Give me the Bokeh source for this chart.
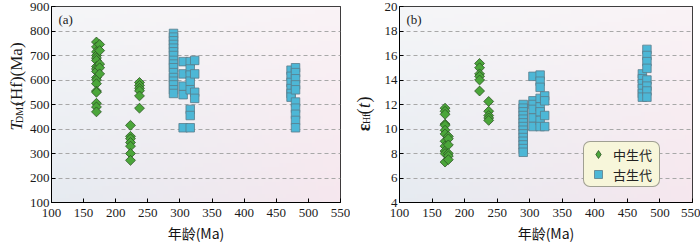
import numpy as np
from bokeh.plotting import figure
from bokeh.models import Range1d, FixedTicker, Label, Legend, LegendItem
from bokeh.layouts import row
from bokeh.embed import file_html
from bokeh.resources import INLINE

# ---------------- data ----------------
x_ticks = [100, 150, 200, 250, 300, 350, 400, 450, 500, 550]
tdm_ticks = [100, 200, 300, 400, 500, 600, 700, 800, 900]
ehf_ticks = [4, 6, 8, 10, 12, 14, 16, 18, 20]

legend_labels = ["中生代", "古生代"]

# panel (a): T_DM2(Hf) (Ma)
meso_age_a = [170] * 17 + [175] * 5 + [223] * 7 + [237] * 6
meso_tdm = [755, 735, 715, 700, 690, 680, 655, 645, 635, 610, 600, 585, 555, 550, 505, 490, 470,
            745, 720, 665, 650, 625,
            415, 370, 360, 345, 330, 300, 272,
            590, 578, 566, 556, 535, 485]
paleo_age_a = [290] * 16 + [305] * 5 + [316] * 8 + [323] * 4 + [473] * 6 + [480] * 10
paleo_tdm = [790, 775, 760, 745, 730, 715, 700, 680, 665, 650, 630, 610, 595, 580, 560, 545,
             675, 625, 575, 540, 405,
             675, 645, 620, 595, 560, 480, 455, 405,
             680, 625, 550, 525,
             640, 615, 590, 565, 545, 530,
             650, 630, 605, 580, 560, 510, 485, 460, 435, 405]

# panel (b): epsilon Hf(t)
meso_age_b = [170] * 12 + [175] * 6 + [223] * 6 + [237] * 5
meso_ehf = [11.7, 11.45, 11.2, 10.4, 10.3, 9.9, 9.6, 9.0, 8.6, 8.2, 8.0, 7.3,
            9.4, 9.2, 8.7, 8.0, 7.8, 7.5,
            15.35, 15.0, 14.5, 14.3, 14.0, 13.1,
            12.25, 11.45, 11.1, 10.9, 10.7]
paleo_age_b = [290] * 14 + [305] * 6 + [316] * 8 + [323] * 4 + [473] * 6 + [480] * 8
paleo_ehf = [12.0, 11.7, 11.4, 11.1, 10.8, 10.5, 10.2, 9.9, 9.6, 9.3, 9.0, 8.7, 8.4, 8.1,
             14.3, 12.3, 12.0, 11.6, 10.9, 10.2,
             14.4, 13.9, 13.4, 12.5, 11.8, 11.4, 10.7, 10.2,
             12.7, 12.3, 11.1, 10.2,
             14.5, 14.1, 13.7, 13.3, 12.9, 12.6,
             16.5, 16.0, 15.5, 14.95, 14.0, 13.5, 13.1, 12.6]

# ---------------- style ----------------
GREEN, GREEN_LINE = "#4ba63a", "#2c5424"
BLUE, BLUE_LINE = "#4db7d6", "#5a7c8a"
SERIF = "Liberation Serif"
CJK = "Noto Sans CJK SC"
TXT = "#1a1a1a"
H = 245


def gradient_image(nx=80, ny=50):
    bl = np.array([230, 235, 241], float)
    tl = np.array([245, 246, 248], float)
    br = np.array([246, 231, 238], float)
    tr = np.array([250, 243, 246], float)
    u = np.linspace(0, 1, nx)[None, :, None]
    v = np.linspace(0, 1, ny)[:, None, None]
    c = (1 - u) * (1 - v) * bl + u * (1 - v) * br + (1 - u) * v * tl + u * v * tr
    img = np.empty((ny, nx), dtype=np.uint32)
    view = img.view(dtype=np.uint8).reshape((ny, nx, 4))
    view[..., :3] = np.clip(c, 0, 255).astype(np.uint8)
    view[..., 3] = 255
    return img


def make_panel(width, left, right, yticks, tag, meso_x, meso_y, paleo_x, paleo_y):
    p = figure(width=width, height=H, output_backend="svg", toolbar_location=None,
               x_range=Range1d(x_ticks[0], x_ticks[-1]),
               y_range=Range1d(yticks[0], yticks[-1]),
               min_border_left=left, min_border_right=right,
               min_border_top=6, min_border_bottom=0)
    xr, yr = p.x_range, p.y_range
    p.image_rgba(image=[gradient_image()], x=xr.start, y=yr.start,
                 dw=xr.end - xr.start, dh=yr.end - yr.start, level="image")
    p.outline_line_color = "black"
    p.outline_line_width = 1
    p.xgrid.visible = False
    p.ygrid.grid_line_color = "#a8a8a8"
    p.ygrid.grid_line_dash = "4 3"
    p.ygrid.grid_line_width = 1
    p.xaxis.ticker = FixedTicker(ticks=x_ticks)
    p.yaxis.ticker = FixedTicker(ticks=yticks)
    for ax in (p.xaxis[0], p.yaxis[0]):
        ax.axis_line_color = "black"
        ax.major_tick_in = 4
        ax.major_tick_out = 0
        ax.major_tick_line_color = "black"
        ax.minor_tick_line_color = None
        ax.major_label_text_font = SERIF
        ax.major_label_text_font_size = "13px"
        ax.major_label_text_color = TXT
    p.xaxis.major_label_standoff = 6
    p.yaxis.major_label_standoff = 2
    p.xaxis.axis_label = "年龄(Ma)"
    p.xaxis.axis_label_text_font = CJK
    p.xaxis.axis_label_text_font_size = "14px"
    p.xaxis.axis_label_text_font_style = "normal"
    p.xaxis.axis_label_text_color = "#141414"
    p.xaxis.axis_label_standoff = 3

    rm = p.scatter(meso_x, meso_y, marker="square", angle=np.pi / 4, size=7,
                   fill_color=GREEN, line_color=GREEN_LINE, line_width=0.8)
    rp = p.scatter(paleo_x, paleo_y, marker="square", size=8.5,
                   fill_color=BLUE, line_color=BLUE_LINE, line_width=0.8)

    p.add_layout(Label(x=xr.start, y=yr.end, x_offset=7, y_offset=-5, text=tag,
                       text_font=SERIF, text_font_size="13px", text_baseline="top",
                       text_color=TXT))
    return p, rm, rp


def title_strip(width):
    # narrow blank figure that carries a vertical, composed axis title
    t = figure(width=width, height=H, output_backend="svg", toolbar_location=None,
               x_range=Range1d(0, width), y_range=Range1d(0, H),
               x_axis_location=None, y_axis_location=None, min_border=0)
    t.outline_line_color = None
    t.grid.visible = False
    t.background_fill_color = "white"
    t.border_fill_color = "white"
    return t


def vlabel(t, x, y, text, size, style="normal"):
    t.add_layout(Label(x=x, y=y, angle=np.pi / 2, text=text, text_font=SERIF,
                       text_font_size=size, text_font_style=style,
                       text_baseline="alphabetic", text_align="left", text_color=TXT))


p1, r1m, r1p = make_panel(324, 21, 10, tdm_ticks, "(a)", meso_age_a, meso_tdm, paleo_age_a, paleo_tdm)
p2, r2m, r2p = make_panel(325, 24, 8, ehf_ticks, "(b)", meso_age_b, meso_ehf, paleo_age_b, paleo_ehf)

# y-axis titles
ta = title_strip(26)
ya = 90
vlabel(ta, 16, ya, "T", "17px", "italic")
vlabel(ta, 19, ya + 9.5, "DM2", "10px")
vlabel(ta, 16, ya + 31, "(Hf)(Ma)", "17px")

tb = title_strip(25)
yb = 89
vlabel(tb, 13, yb, "ε", "18px", "bold")
vlabel(tb, 16, yb + 9, "Hf", "10px")
vlabel(tb, 13, yb + 21, "(", "18px")
vlabel(tb, 13, yb + 29, "t", "18px", "italic")
vlabel(tb, 13, yb + 36, ")", "18px")

# legend (diamond proxy so that the key shows a diamond; the proxy has no visible point)
leg_diamond = p2.scatter(x=[np.nan], y=[np.nan], marker="diamond", size=10,
                         fill_color=GREEN, line_color=GREEN_LINE, line_width=0.8)
legend = Legend(items=[LegendItem(label=legend_labels[0], renderers=[leg_diamond]),
                       LegendItem(label=legend_labels[1], renderers=[r2p])],
                location=(184, 15), orientation="vertical",
                label_text_font=CJK, label_text_font_size="13px", label_text_color="#222222",
                background_fill_color="#f7f6da", background_fill_alpha=1.0,
                border_line_color="#4a4a4a", border_line_width=1.5,
                glyph_width=24, glyph_height=20, label_height=20, label_width=44,
                spacing=0, padding=2, label_standoff=3, margin=0)
try:
    legend.border_radius = 7
except Exception:
    pass
p2.add_layout(legend)

layout = row(ta, p1, tb, p2)
open("out.html", "w").write(file_html(layout, INLINE))
